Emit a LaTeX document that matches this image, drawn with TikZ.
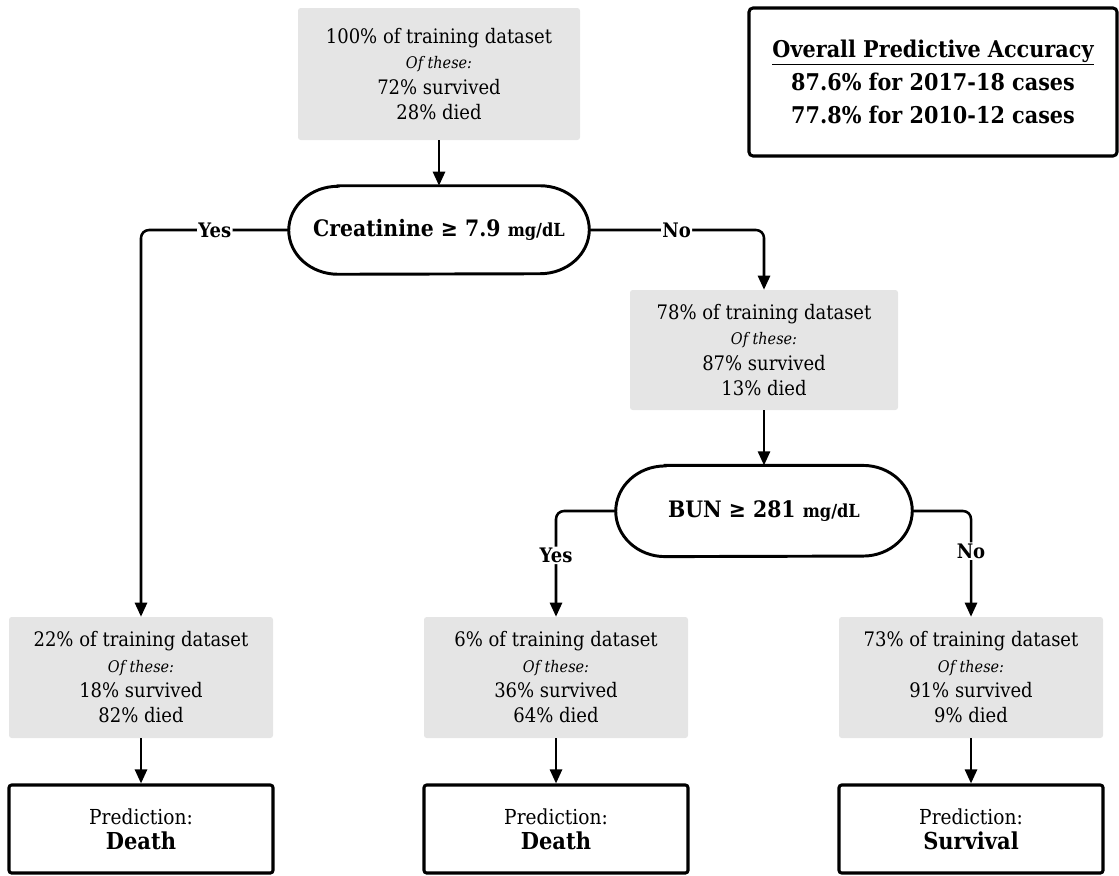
\documentclass[tikz,border=0pt]{standalone}
\usepackage{fontspec}
\setmainfont{DejaVu Serif}[FakeStretch=0.9]
\usetikzlibrary{arrows.meta,calc}
\tikzset{
  graybox/.style={fill=black!10, rounded corners=2pt, inner sep=0pt, align=center,
    font=\fontsize{15}{19}\selectfont},
  predbox/.style={draw, line width=2.3pt, rounded corners=2pt, inner sep=0pt, align=center,
    font=\fontsize{15.5}{19}\selectfont},
  pillnode/.style={inner sep=0pt, minimum width=225pt, minimum height=66pt, font=\bfseries\fontsize{17}{20}\selectfont},
  pilledge/.style={line width=2.2pt},
  conn/.style={line width=1.9pt, -{Triangle[length=10.5pt,width=9pt]}},
  lbl/.style={fill=white, inner sep=1pt, font=\bfseries\fontsize{15}{17}\selectfont},
}
\newcommand{\ofthese}{{\fontsize{12}{19}\selectfont\itshape Of these:}}
\begin{document}
\begin{tikzpicture}[x=0.75pt,y=-0.75pt]
\useasboundingbox (0,0) rectangle (1119,875);

% top box
\node[graybox, minimum width=211.5pt, minimum height=99pt] (top) at (439,74)
  {100\% of training dataset\\ \ofthese\\ 72\% survived\\ 28\% died};

% accuracy box
\node[draw, line width=2.3pt, rounded corners=3pt, minimum width=276pt, minimum height=111pt,
  align=center, inner sep=0pt, font=\bfseries\fontsize{17.3}{25}\selectfont] (acc) at (933,82)
  {\underline{Overall Predictive Accuracy}\\ 87.6\% for 2017-18 cases\\ 77.8\% for 2010-12 cases};

% creatinine pill
\node[pillnode] (cre) at (439,230) {Creatinine ≥ 7.9 {\fontsize{13.5}{16}\selectfont mg/dL}};
\draw[pilledge] ($(cre.north west)+(37pt,0)$) -- ($(cre.north east)+(-37pt,0)$)
  arc[start angle=90, end angle=-90, x radius=37pt, y radius=33pt]
  -- ($(cre.south west)+(37pt,0)$)
  arc[start angle=270, end angle=90, x radius=37pt, y radius=33pt] -- cycle;

% 78% box
\node[graybox, minimum width=201pt, minimum height=90pt] (b78) at (764,350)
  {78\% of training dataset\\ \ofthese\\ 87\% survived\\ 13\% died};

% BUN pill
\node[pillnode, minimum width=222pt, minimum height=68pt] (bun) at (764,511) {BUN ≥ 281 {\fontsize{13.5}{16}\selectfont mg/dL}};
\draw[pilledge] ($(bun.north west)+(37pt,0)$) -- ($(bun.north east)+(-37pt,0)$)
  arc[start angle=90, end angle=-90, x radius=37pt, y radius=34pt]
  -- ($(bun.south west)+(37pt,0)$)
  arc[start angle=270, end angle=90, x radius=37pt, y radius=34pt] -- cycle;

% bottom gray boxes
\node[graybox, minimum width=198pt, minimum height=90.75pt] (b22) at (141,677.5)
  {22\% of training dataset\\ \ofthese\\ 18\% survived\\ 82\% died};
\node[graybox, minimum width=198pt, minimum height=90.75pt] (b6) at (556,677.5)
  {6\% of training dataset\\ \ofthese\\ 36\% survived\\ 64\% died};
\node[graybox, minimum width=198pt, minimum height=90.75pt] (b73) at (971,677.5)
  {73\% of training dataset\\ \ofthese\\ 91\% survived\\ 9\% died};

% prediction boxes
\node[predbox, minimum width=198pt, minimum height=66pt] (p1) at (141,829)
  {Prediction:\\ {\bfseries\fontsize{17.5}{19}\selectfont Death}};
\node[predbox, minimum width=198pt, minimum height=66pt] (p2) at (556,829)
  {Prediction:\\ {\bfseries\fontsize{17.5}{19}\selectfont Death}};
\node[predbox, minimum width=198pt, minimum height=66pt] (p3) at (971,829)
  {Prediction:\\ {\bfseries\fontsize{17.5}{19}\selectfont Survival}};

% connectors
\draw[conn] (top.south) -- (cre.north);
\draw[conn, rounded corners=6pt] (cre.west) -- node[lbl]{Yes} (b22.north |- cre.west) -- (b22.north);
\draw[conn, rounded corners=6pt] (cre.east) -- node[lbl]{No} (b78.north |- cre.east) -- (b78.north);
\draw[conn] (b78.south) -- (bun.north);
\draw[conn, rounded corners=6pt] (bun.west) -- (b6.north |- bun.west) -- node[lbl, pos=0.42]{Yes} (b6.north);
\draw[conn, rounded corners=6pt] (bun.east) -- (b73.north |- bun.east) -- node[lbl, pos=0.38]{No} (b73.north);
\draw[conn] (b22.south) -- (p1.north);
\draw[conn] (b6.south) -- (p2.north);
\draw[conn] (b73.south) -- (p3.north);
\end{tikzpicture}
\end{document}
